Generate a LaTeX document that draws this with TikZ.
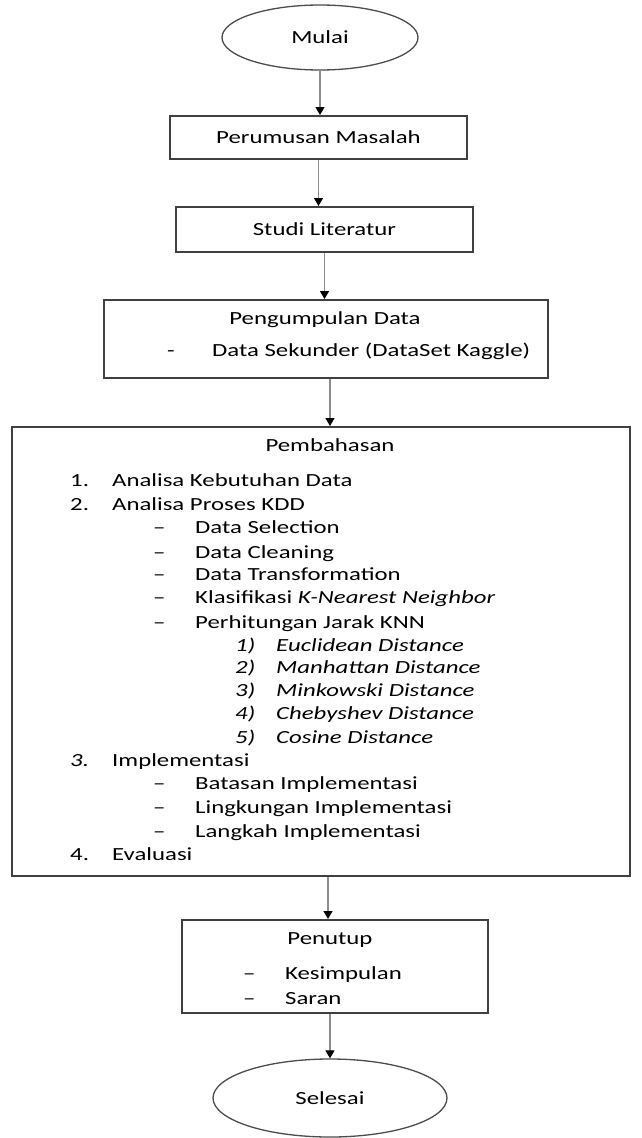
\documentclass[tikz,border=0pt]{standalone}
\usepackage{graphicx}
\usepackage{fontspec}
\setmainfont{Carlito}
\usetikzlibrary{arrows.meta,shapes.geometric}
\newcommand{\hs}[1]{\scalebox{1.34}[1]{#1}}
\tikzset{box/.style={draw=black!75,line width=2pt,inner sep=0pt},term/.style={ellipse,draw=black!70,line width=1.3pt,inner sep=0pt,font=\fontsize{18.5}{22}\selectfont},arr/.style={-{Triangle[width=9pt,length=8pt,color=black]},draw=black!45,line width=1.2pt},lab/.style={font=\fontsize{18.5}{22}\selectfont,inner sep=0pt,anchor=base},item/.style={lab,anchor=base west}}

\begin{document}
\begin{tikzpicture}[x=1pt,y=-1pt]
\useasboundingbox (0,0) rectangle (641,1138);
% frames
\node[term,minimum width=196pt,minimum height=65pt] (mulai) at (320,37.5) {\hs{Mulai}};
\node[box,minimum width=297pt,minimum height=43pt,font=\fontsize{18.5}{22}\selectfont] (rumusan) at (318.5,137.5) {\hs{Perumusan Masalah}};
\node[box,minimum width=297pt,minimum height=45pt,font=\fontsize{18.5}{22}\selectfont] (studi) at (324.5,229.5) {\hs{Studi Literatur}};
\node[box,minimum width=444pt,minimum height=78pt] (kumpul) at (326,339) {};
\node[box,minimum width=618pt,minimum height=449pt] (bahas) at (321,651.5) {};
\node[box,minimum width=306pt,minimum height=93pt] (tutup) at (335,966.5) {};
\node[term,minimum width=234pt,minimum height=78pt] (selesai) at (330,1098) {\hs{Selesai}};
% pengumpulan data
\node[lab] (kumpulT) at (325,324) {\hs{Pengumpulan Data}};
\node[item] (kumpulD) at (167,356) {\hs{-}};
\node[item] (kumpulA) at (212,356) {\hs{Data Sekunder (DataSet Kaggle)}};
% pembahasan
\node[lab] (bahasT) at (330,451) {\hs{Pembahasan}};
\node[item] (n1) at (70,486) {\hs{1.}};
\node[item] (p1) at (112,486) {\hs{Analisa Kebutuhan Data}};
\node[item] (n2) at (70,510) {\hs{2.}};
\node[item] (p2) at (112,510) {\hs{Analisa Proses KDD}};
\node[item] (d1) at (153,533) {\hs{–}};
\node[item] (s1) at (195,533) {\hs{Data Selection}};
\node[item] (d2) at (153,558) {\hs{–}};
\node[item] (s2) at (195,558) {\hs{Data Cleaning}};
\node[item] (d3) at (153,580) {\hs{–}};
\node[item] (s3) at (195,580) {\hs{Data Transformation}};
\node[item] (d4) at (153,603) {\hs{–}};
\node[item] (s4) at (195,603) {\hs{Klasifikasi \textit{K-Nearest Neighbor}}};
\node[item] (d5) at (153,628) {\hs{–}};
\node[item] (s5) at (195,628) {\hs{Perhitungan Jarak KNN}};
\foreach \i/\y/\t in {1/651/Euclidean,2/673/Manhattan,3/696/Minkowski,4/719/Chebyshev,5/743/Cosine}{
  \node[item] (j\i) at (235,\y) {\hs{\textit{\i)}}};
  \node[item] (jt\i) at (276,\y) {\hs{\textit{\t\ Distance}}};
}
\node[item] (n3) at (70,766) {\hs{\textit{3.}}};
\node[item] (p3) at (112,766) {\hs{Implementasi}};
\node[item] (d6) at (153,789) {\hs{–}};
\node[item] (s6) at (195,789) {\hs{Batasan Implementasi}};
\node[item] (d7) at (153,813) {\hs{–}};
\node[item] (s7) at (195,813) {\hs{Lingkungan Implementasi}};
\node[item] (d8) at (153,837) {\hs{–}};
\node[item] (s8) at (195,837) {\hs{Langkah Implementasi}};
\node[item] (n4) at (70,860) {\hs{4.}};
\node[item] (p4) at (112,860) {\hs{Evaluasi}};
% penutup
\node[lab] (tutupT) at (330,944) {\hs{Penutup}};
\node[item] (t1) at (243,979) {\hs{–}};
\node[item] (k1) at (285,979) {\hs{Kesimpulan}};
\node[item] (t2) at (243,1004) {\hs{–}};
\node[item] (k2) at (285,1004) {\hs{Saran}};
% flow
\draw[arr] (mulai.south) -- (mulai.south |- rumusan.north);
\draw[arr] (rumusan.south) -- (rumusan.south |- studi.north);
\draw[arr] (studi.south) -- (studi.south |- kumpul.north);
\draw[arr] ([xshift=4pt]kumpul.south) -- ([xshift=4pt]kumpul.south |- bahas.north);
\draw[arr] ([xshift=7pt]bahas.south) -- ([xshift=7pt]bahas.south |- tutup.north);
\draw[arr] (tutup.south -| selesai.north) -- (selesai.north);
\end{tikzpicture}
\end{document}
